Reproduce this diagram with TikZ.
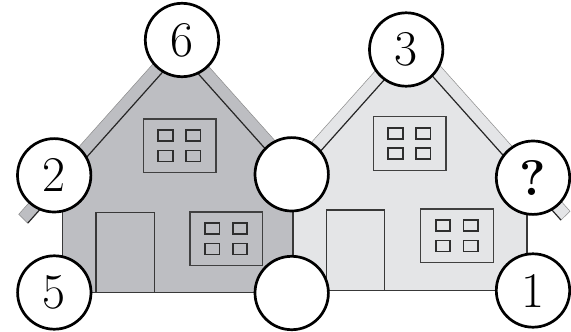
\documentclass[tikz,border=0pt]{standalone}
\usepackage{fontspec}
\definecolor{darkfill}{RGB}{189,190,194}
\definecolor{lightfill}{RGB}{228,229,231}
\tikzset{
  num/.style={circle, draw=black, fill=white, line width=2.7pt, minimum size=73.4pt, inner sep=0pt, font=\fontsize{50}{50}\selectfont},
  wallline/.style={draw=black!78, line width=1.3pt},
  roofin/.style={draw=black!85, line width=1.2pt},
  roofout/.style={draw=black!45, line width=0.5pt},
  winframe/.style={draw=black!75, line width=1.4pt},
  pane/.style={draw=black!82, line width=1.7pt},
  window/.pic={
    \draw[winframe] (0,0) rectangle (72.5,53.5);
    \foreach \dx in {15,42.7} \foreach \dy in {11,31.6} \draw[pane] (\dx,\dy) rectangle ++(14.4,11);
  }
}
\begin{document}
\begin{tikzpicture}[x=1pt,y=-1pt]
\useasboundingbox (0,0) rectangle (571,332);
% left (dark) house
\fill[darkfill] (179.7,34) -- (18.7,214.3) -- (27.7,223.2) -- (62.7,184) -- (62.7,292.5) -- (296.7,292.5) -- (296.7,184) -- (331.7,223.2) -- (340.7,214.3) -- cycle;
\draw[roofout] (27.7,223.2) -- (18.7,214.3) -- (179.7,34) -- (340.7,214.3) -- (331.7,223.2);
\draw[roofin] (27.7,223.2) -- (179.7,53) -- (331.7,223.2);
\draw[wallline] (62.7,184) -- (62.7,292.5) -- (296.7,292.5) -- (296.7,184);
\draw[wallline] (96,292.5) -- (96,212.3) -- (154.3,212.3) -- (154.3,292.5);
\pic (wl1) at (143.3,119) {window};
\pic (wl2) at (190,212) {window};
% right (light) house
\fill[lightfill] (293,163) -- (410,32) -- (570,211.2) -- (561,220.1) -- (527,182) -- (527,290.5) -- (293,290.5) -- cycle;
\draw[roofout] (293,163) -- (410,32) -- (570,211.2) -- (561,220.1);
\draw[roofin] (293,182) -- (410,51) -- (561,220.1);
\draw[wallline] (293,182) -- (293,290.5) -- (527,290.5) -- (527,182);
\draw[wallline] (326.7,290.5) -- (326.7,210) -- (384.3,210) -- (384.3,290.5);
\pic (wr1) at (373.3,116.7) {window};
\pic (wr2) at (420.7,209) {window};
% number circles
\node[num] (n6) at (182,40) {6};
\node[num] (n2) at (54.2,175.3) {2};
\node[num] (n5) at (54.3,292.5) {5};
\node[num] (nm1) at (291.7,174.3) {};
\node[num] (nm2) at (291.7,293) {};
\node[num] (n3) at (406.2,49.5) {3};
\node[num] (nq) at (533,177.7) {\bfseries ?};
\node[num] (n1) at (533,290.5) {1};
\end{tikzpicture}
\end{document}
